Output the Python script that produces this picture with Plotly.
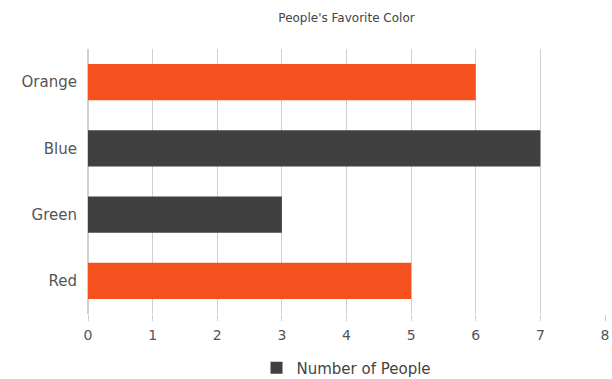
import plotly.graph_objects as go

# Favourite colour survey
categories = ["Orange", "Blue", "Green", "Red"]   # top to bottom
counts = [6, 7, 3, 5]
bar_colors = ["#F4511E", "#404040", "#404040", "#F4511E"]

# plot the dark bar first so the legend swatch takes its colour
order = [1, 0, 2, 3]
ys = [categories[i] for i in order]
xs = [counts[i] for i in order]
cs = [bar_colors[i] for i in order]

x_ticks = list(range(0, 9))

fig = go.Figure()
fig.add_trace(go.Bar(
    x=xs, y=ys, orientation="h",
    marker=dict(color=cs, line=dict(width=0)),
    name="Number of People", showlegend=True,
))

fig.update_layout(
    width=612, height=379,
    margin=dict(l=88, r=7, t=49, b=65),
    paper_bgcolor="white", plot_bgcolor="white",
    font=dict(family="DejaVu Sans, sans-serif", color="#555555", size=14),
    title=dict(text="People's Favorite Color", x=0.5, xref="paper",
               y=0.9525, yanchor="middle",
               font=dict(size=12, color="#444444")),
    bargap=0.45,
    showlegend=True,
    legend=dict(orientation="h", x=0.5, xanchor="center",
                yref="container", y=0.029, yanchor="middle",
                font=dict(size=15, color="#444444")),
    xaxis=dict(range=[0, 8], tickvals=x_ticks, showgrid=True, automargin=False,
               gridcolor="#CFCFCF", gridwidth=1, zeroline=True,
               zerolinecolor="#CFCFCF", ticks="outside", ticklen=6,
               tickcolor="#CFCFCF", showline=False, ticklabelstandoff=2,
               tickfont=dict(size=14)),
    yaxis=dict(categoryorder="array", categoryarray=categories, automargin=False,
               autorange="reversed", showgrid=False, ticks="",
               ticklabelstandoff=10, showline=False, tickfont=dict(size=15)),
)

fig.write_html("out.html")
